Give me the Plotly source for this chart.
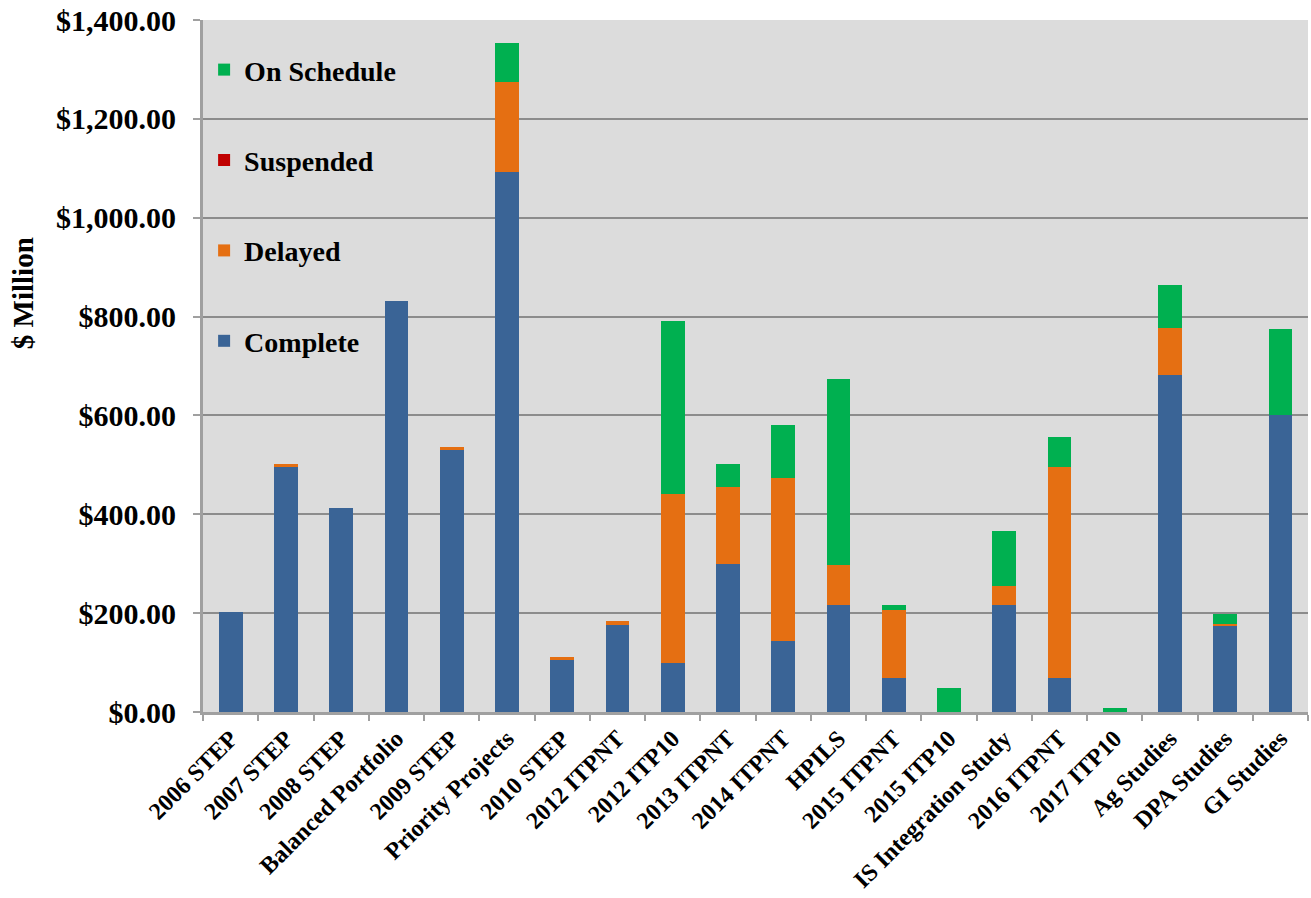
import plotly.graph_objects as go

categories = ["2006 STEP", "2007 STEP", "2008 STEP", "Balanced Portfolio", "2009 STEP",
              "Priority Projects", "2010 STEP", "2012 ITPNT", "2012 ITP10", "2013 ITPNT",
              "2014 ITPNT", "HPILS", "2015 ITPNT", "2015 ITP10", "IS Integration Study",
              "2016 ITPNT", "2017 ITP10", "Ag Studies", "DPA Studies", "GI Studies"]

complete = [203, 497, 413, 832, 532, 1092, 105, 176, 100, 300,
            143, 216, 68, 0, 216, 69, 0, 682, 174, 600]
delayed = [0, 4, 0, 0, 4, 182, 7, 9, 341, 156,
           331, 81, 138, 0, 38, 427, 0, 95, 5, 0]
suspended = [0] * 20
on_schedule = [0, 0, 0, 0, 0, 80, 0, 0, 351, 45,
               107, 376, 10, 48, 113, 61, 9, 87, 20, 174]

series_names = ["Complete", "Delayed", "Suspended", "On Schedule"]
series_values = [complete, delayed, suspended, on_schedule]
series_colors = ["#3a6496", "#e56f12", "#c00000", "#00b050"]
legend_ranks = [4, 3, 2, 1]

y_ticks = [0, 200, 400, 600, 800, 1000, 1200, 1400]
y_ticktext = [f"${v:,.2f}" for v in y_ticks]

FONT = "Liberation Serif"

fig = go.Figure()
for name, vals, col, rank in zip(series_names, series_values, series_colors, legend_ranks):
    fig.add_trace(go.Bar(
        x=categories, y=vals, name=name, legendgroup=name, legendrank=rank,
        marker=dict(color=col, line=dict(width=0)),
    ))

fig.update_layout(
    barmode="stack",
    bargap=0.57,
    width=1311, height=898,
    margin=dict(l=203, r=3, t=20, b=186),
    paper_bgcolor="white",
    plot_bgcolor="#dcdcdc",
    font=dict(family=FONT, size=27, color="black"),
    showlegend=True,
    legend=dict(
        x=0.001, y=0.964, xanchor="left", yanchor="top",
        traceorder="grouped", tracegroupgap=51,
        bgcolor="rgba(0,0,0,0)",
        font=dict(family=FONT, size=28, color="black", weight="bold"),
    ),
    xaxis=dict(
        type="category",
        tickangle=-45,
        automargin=False,
        tickfont=dict(family=FONT, size=24, color="black", weight="bold"),
        showline=True, linecolor="#a0a0a0", linewidth=3,
        ticks="outside", ticklen=6, tickcolor="#a0a0a0", tickwidth=2,
        tickson="boundaries",
        showgrid=False,
    ),
    yaxis=dict(
        range=[0, 1400],
        automargin=False,
        tickvals=y_ticks,
        ticktext=y_ticktext,
        tickfont=dict(family=FONT, size=30, color="black", weight="bold"),
        showline=True, linecolor="#a0a0a0", linewidth=3,
        ticks="outside", ticklen=7, tickcolor="#a0a0a0", tickwidth=2,
        ticklabelstandoff=11,
        showgrid=True, gridcolor="#8c8c8c", gridwidth=2,
        zeroline=False,
    ),
    annotations=[dict(
        text="$ Million", textangle=-90,
        xref="paper", yref="paper", x=-0.163, y=0.605,
        xanchor="center", yanchor="middle", showarrow=False,
        font=dict(family=FONT, size=29, color="black", weight="bold"),
    )],
)

fig.write_html("out.html")
